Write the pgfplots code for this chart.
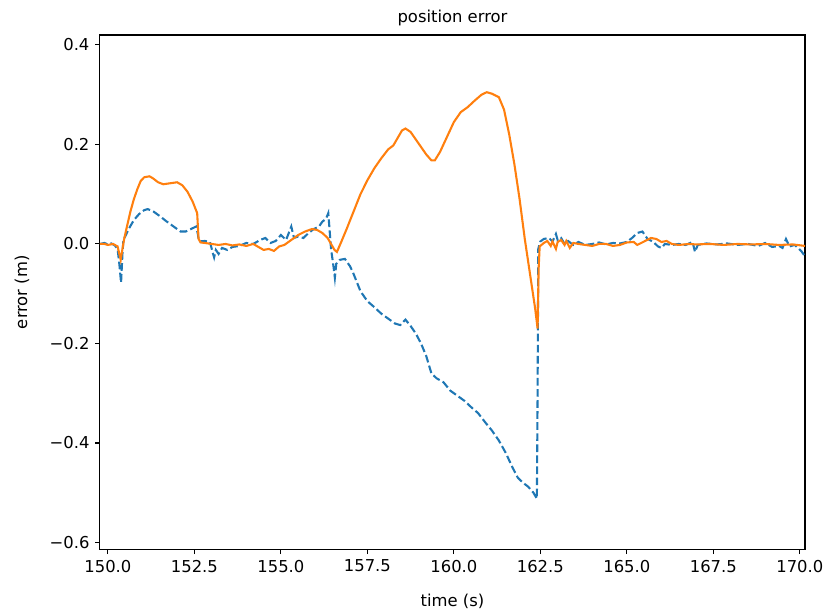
\documentclass[border=0pt]{standalone}
\usepackage{fontspec}
\setmainfont{DejaVu Sans}
\usepackage{pgfplots}
\pgfplotsset{compat=1.18}
\definecolor{mplblue}{HTML}{1F77B4}
\definecolor{mplorange}{HTML}{FF7F0E}
\begin{document}
\fontsize{12.3}{14}\selectfont
\begin{tikzpicture}
\begin{axis}[
  scale only axis,
  width=529pt, height=386pt,
  xmin=149.77, xmax=170.15,
  ymin=-0.614, ymax=0.42,
  axis line style={line width=0.8pt},
  every tick/.style={black, line width=0.8pt},
  tick align=outside,
  major tick length=3.6pt,
  xtick pos=bottom, ytick pos=left,
  xtick={150,152.5,155,157.5,160,162.5,165,167.5,170},
  xticklabels={150.0,152.5,155.0,157.5,160.0,162.5,165.0,167.5,170.0},
  ytick={-0.6,-0.4,-0.2,0,0.2,0.4},
  yticklabels={−0.6,−0.4,−0.2,0.0,0.2,0.4},
  tick label style={font=\fontsize{12.3}{14}\selectfont},
  xlabel={time (s)}, ylabel={error (m)},
  label style={font=\fontsize{12.3}{14}\selectfont},
  title={position error},
  title style={font=\fontsize{12.3}{14}\selectfont, at={(axis description cs:0.5,1)}, anchor=center},
  every axis title shift=13pt,
  xlabel style={at={(axis description cs:0.5,0)}, anchor=center, yshift=-39pt},
  ylabel style={at={(axis description cs:0,0.5)}, anchor=center, rotate=0, yshift=58.5pt},
  clip=true,
]
\addplot[mplblue, line width=1.56pt, dash pattern=on 5.8pt off 2.5pt] coordinates {
(149.77,0.000) (149.9,0.002) (150.0,-0.001) (150.1,0.001) (150.2,-0.003) (150.28,-0.01)
(150.33,-0.04) (150.38,-0.078) (150.42,-0.02) (150.45,0.01) (150.5,0.015) (150.6,0.03)
(150.75,0.048) (150.9,0.06) (151.05,0.068) (151.15,0.07) (151.3,0.066) (151.5,0.056)
(151.7,0.045) (151.9,0.035) (152.1,0.025) (152.25,0.025) (152.4,0.03) (152.55,0.035)
(152.6,0.02) (152.63,0.005) (152.8,0.006) (152.95,0.004) (153.02,-0.015) (153.07,-0.027)
(153.12,-0.012) (153.2,-0.02) (153.3,-0.008) (153.45,-0.012) (153.6,-0.006) (153.8,-0.004)
(154.0,0.002) (154.2,0.0) (154.4,0.008) (154.55,0.012) (154.7,0.002) (154.85,0.006)
(155.0,0.018) (155.15,0.008) (155.3,0.035) (155.38,0.012) (155.5,0.015) (155.65,0.012)
(155.8,0.022) (155.95,0.03) (156.1,0.035) (156.2,0.045) (156.3,0.05) (156.37,0.062)
(156.45,-0.01) (156.52,-0.045) (156.56,-0.068) (156.6,-0.04) (156.7,-0.032) (156.85,-0.03)
(157.0,-0.045) (157.1,-0.06) (157.3,-0.095) (157.5,-0.115) (157.7,-0.127) (157.9,-0.14)
(158.1,-0.15) (158.3,-0.16) (158.45,-0.163) (158.6,-0.152) (158.75,-0.165) (158.9,-0.18)
(159.05,-0.2) (159.2,-0.225) (159.35,-0.26) (159.5,-0.27) (159.7,-0.278) (159.9,-0.295)
(160.1,-0.305) (160.3,-0.315) (160.5,-0.328) (160.7,-0.34) (160.9,-0.358) (161.1,-0.375)
(161.3,-0.395) (161.5,-0.42) (161.7,-0.45) (161.85,-0.47) (162.0,-0.48) (162.15,-0.488)
(162.3,-0.5) (162.4,-0.512) (162.42,-0.3) (162.44,-0.01) (162.5,0.005)
(162.6,0.01) (162.75,0.012) (162.85,0.005) (162.95,0.02) (163.0,0.008) (163.1,0.012)
(163.2,0.0) (163.3,0.006) (163.45,-0.002) (163.6,0.004) (163.8,-0.002) (164.0,0.0)
(164.2,0.003) (164.4,-0.001) (164.6,0.002) (164.8,0.001) (165.0,0.004) (165.15,0.012)
(165.3,0.022) (165.45,0.025) (165.6,0.01) (165.75,0.005) (165.9,-0.005) (166.0,-0.008)
(166.1,0.0) (166.3,-0.002) (166.5,0.0) (166.7,-0.002) (166.9,0.004) (166.97,-0.016)
(167.05,-0.002) (167.3,0.001) (167.6,-0.001) (167.9,0.001) (168.2,-0.002) (168.5,0.0)
(168.8,-0.004) (169.0,0.002) (169.2,-0.006) (169.4,-0.004) (169.5,-0.008) (169.6,0.01)
(169.7,-0.005) (169.85,-0.002) (169.95,-0.008) (170.05,-0.015) (170.15,-0.025)
};
\addplot[mplorange, line width=1.56pt] coordinates {
(149.77,0.0) (149.9,0.0) (150.0,-0.002) (150.15,0.0) (150.28,-0.005) (150.33,-0.02)
(150.37,-0.032) (150.42,-0.01) (150.47,0.01) (150.55,0.035) (150.65,0.065) (150.75,0.09)
(150.85,0.11) (150.95,0.127) (151.05,0.134) (151.2,0.136) (151.3,0.132) (151.45,0.124)
(151.6,0.12) (151.8,0.122) (152.0,0.124) (152.15,0.118) (152.3,0.105) (152.45,0.085)
(152.58,0.062) (152.62,0.01) (152.68,0.003) (152.8,0.002) (153.0,0.0) (153.2,-0.002)
(153.4,0.0) (153.6,-0.003) (153.8,-0.001) (154.0,-0.004) (154.2,0.0) (154.35,-0.006)
(154.5,-0.012) (154.65,-0.01) (154.8,-0.014) (154.95,-0.005) (155.1,-0.002) (155.3,0.008)
(155.5,0.018) (155.7,0.025) (155.9,0.03) (156.05,0.028) (156.2,0.022) (156.35,0.012)
(156.45,0.0) (156.55,-0.012) (156.62,-0.016) (156.75,0.005) (156.9,0.03) (157.1,0.065)
(157.3,0.1) (157.5,0.128) (157.7,0.152) (157.9,0.172) (158.1,0.19) (158.25,0.198)
(158.35,0.21) (158.5,0.228) (158.6,0.232) (158.75,0.225) (158.9,0.21) (159.05,0.195)
(159.2,0.18) (159.35,0.168) (159.45,0.168) (159.6,0.185) (159.8,0.215) (160.0,0.245)
(160.2,0.265) (160.4,0.275) (160.6,0.288) (160.8,0.3) (160.95,0.305) (161.1,0.302)
(161.3,0.295) (161.45,0.27) (161.6,0.22) (161.75,0.16) (161.9,0.09) (162.05,0.01)
(162.2,-0.06) (162.35,-0.13) (162.42,-0.17) (162.45,-0.05) (162.48,-0.005) (162.6,0.002)
(162.7,0.006) (162.8,-0.004) (162.85,0.005) (162.95,-0.01) (163.0,0.004) (163.1,0.008)
(163.2,-0.002) (163.25,0.006) (163.35,-0.008) (163.45,0.002) (163.6,0.0) (163.8,-0.002)
(164.0,-0.004) (164.2,0.0) (164.4,0.0) (164.6,-0.004) (164.8,-0.002) (165.0,0.003)
(165.2,0.004) (165.3,-0.002) (165.5,0.005) (165.7,0.012) (165.85,0.01) (166.0,0.004)
(166.15,0.006) (166.3,0.0) (166.5,-0.002) (166.8,0.0) (167.0,-0.001) (167.4,0.0)
(167.8,-0.002) (168.2,0.0) (168.6,-0.001) (169.0,0.0) (169.4,-0.002) (169.8,-0.001)
(170.15,-0.004)
};
\end{axis}
\pgfresetboundingbox
\path ([xshift=-75pt,yshift=-48pt]current axis.south west) rectangle ([xshift=16.5pt,yshift=26.25pt]current axis.north east);
\end{tikzpicture}
\end{document}
